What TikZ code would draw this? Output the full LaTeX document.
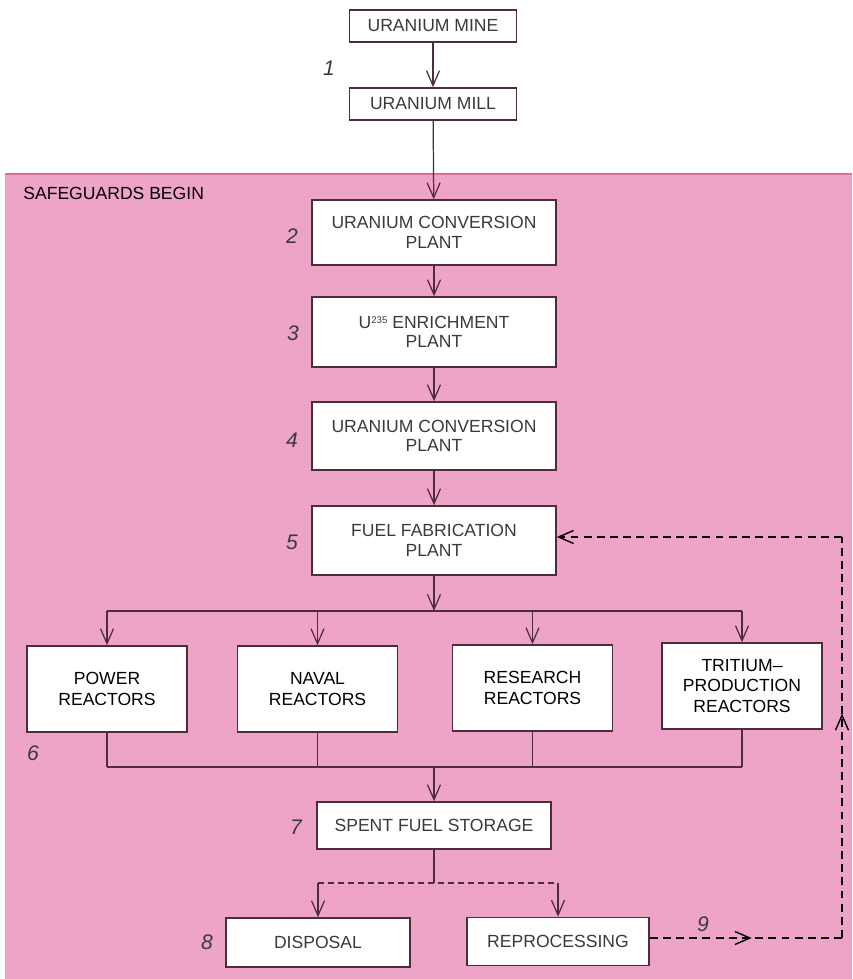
\documentclass[tikz,border=0pt]{standalone}
\usepackage{fontspec}
\setmainfont{Liberation Sans}
\usetikzlibrary{arrows.meta,decorations.markings}
\definecolor{safepink}{RGB}{238,164,198}
\definecolor{pinkedge}{RGB}{222,112,150}
\definecolor{flowline}{RGB}{78,44,62}
\definecolor{boxtext}{RGB}{58,58,58}
\tikzset{
	plantbox/.style={draw=flowline, line width=0.9pt, fill=white, align=center, text=boxtext, inner sep=0pt, font=\fontsize{10}{11}\selectfont},
	reactorbox/.style={plantbox, text=black, minimum width=3.2cm, minimum height=1.72cm, font=\fontsize{10}{11.5}\selectfont},
	stepnum/.style={font=\fontsize{12}{12}\selectfont\itshape, text=boxtext, inner sep=0pt},
	flow/.style={draw=flowline, line width=0.7pt},
	flowarrow/.style={flow, -{Straight Barb[length=3mm,width=2.6mm]}},
	recycle/.style={draw=black, line width=0.8pt, dash pattern=on 4.5pt off 3pt},
	midarrow/.style={postaction={decorate}, decoration={markings, mark=at position #1 with {\arrow{Straight Barb[length=3mm,width=2.6mm]}}}}
}

\begin{document}
\begin{tikzpicture}[x=0.02cm, y=-0.02cm]
			%%%%% START %%%%%
			\useasboundingbox (0,0) rectangle (852,979);
			
			\fill[safepink] (5,174) rectangle (852,979);
			\draw[pinkedge, line width=1pt] (5,174) -- (852,174);
			\node[anchor=west, inner sep=0pt, font=\fontsize{10}{10}\selectfont] (safe) at (23,193) {SAFEGUARDS BEGIN};
			
			\node[plantbox, minimum width=3.34cm, minimum height=0.64cm] (mine) at (433,26) {URANIUM MINE};
			\node[plantbox, minimum width=3.34cm, minimum height=0.64cm] (mill) at (433,104) {URANIUM MILL};
			\node[plantbox, minimum width=4.88cm, minimum height=1.3cm] (convA) at (434,232.5) {URANIUM CONVERSION\\PLANT};
			\node[plantbox, minimum width=4.88cm, minimum height=1.4cm] (enrich) at (434,332) {U\raisebox{0.55ex}{\fontsize{5.5}{5.5}\selectfont 235} ENRICHMENT\\PLANT};
			\node[plantbox, minimum width=4.88cm, minimum height=1.36cm] (convB) at (434,436) {URANIUM CONVERSION\\PLANT};
			\node[plantbox, minimum width=4.88cm, minimum height=1.38cm] (fuel) at (434,540.5) {FUEL FABRICATION\\PLANT};
			
			\node[reactorbox] (power) at (107,689) {POWER\\REACTORS};
			\node[reactorbox] (naval) at (317.5,689) {NAVAL\\REACTORS};
			\node[reactorbox] (research) at (532.5,688) {RESEARCH\\REACTORS};
			\node[reactorbox] (tritium) at (742,686) {TRITIUM–\\PRODUCTION\\REACTORS};
			
			\node[plantbox, minimum width=4.68cm, minimum height=0.94cm] (spent) at (434,825.5) {SPENT FUEL STORAGE};
			\node[plantbox, minimum width=3.68cm, minimum height=0.98cm] (disposal) at (318,942.5) {DISPOSAL};
			\node[plantbox, minimum width=3.64cm, minimum height=0.96cm] (reproc) at (558,941.5) {REPROCESSING};
			
			\node[stepnum] (num1) at (329,68) {1};
			\node[stepnum] (num2) at (292,236) {2};
			\node[stepnum] (num3) at (293,333) {3};
			\node[stepnum] (num4) at (292,440) {4};
			\node[stepnum] (num5) at (292,542) {5};
			\node[stepnum] (num6) at (33,753) {6};
			\node[stepnum] (num7) at (296,827) {7};
			\node[stepnum] (num8) at (207,942) {8};
			\node[stepnum] (num9) at (703,924) {9};
			
			\draw[flowarrow] (mine) -- (mill);
			\draw[flowarrow] (mill) -- (convA);
			\draw[flowarrow] (convA) -- (enrich);
			\draw[flowarrow] (enrich) -- (convB);
			\draw[flowarrow] (convB) -- (fuel);
			
			\coordinate (busT) at (434,611);
			\coordinate (busB) at (434,767);
			\draw[flowarrow] (fuel) -- (busT);
			\draw[flow] (power.north |- busT) -- (tritium.north |- busT);
			\foreach \r in {power,naval,research,tritium}{
				\draw[flowarrow] (\r.north |- busT) -- (\r.north);
				\draw[flow] (\r.south) -- (\r.south |- busB);
			}
			\draw[flow] (power.south |- busB) -- (tritium.south |- busB);
			\draw[flowarrow] (busB) -- (spent);
			
			\coordinate (split) at (434,883);
			\draw[flow] (spent) -- (split);
			\draw[flow, dash pattern=on 3.5pt off 2.2pt] (disposal.north |- split) -- (reproc.north |- split);
			\draw[flowarrow] (disposal.north |- split) -- (disposal);
			\draw[flowarrow] (reproc.north |- split) -- (reproc);
			
			\coordinate (backA) at (842,938);
			\coordinate (backB) at (842,537);
			\draw[recycle, midarrow=0.53] (reproc.east |- backA) -- (backA);
			\draw[recycle, midarrow=0.56] (backA) -- (backB);
			\draw[recycle, -{Straight Barb[length=3mm,width=2.6mm]}] (backB) -- (fuel.east |- backB);
			
			%%%%% END %%%%%
		\end{tikzpicture}
\end{document}
